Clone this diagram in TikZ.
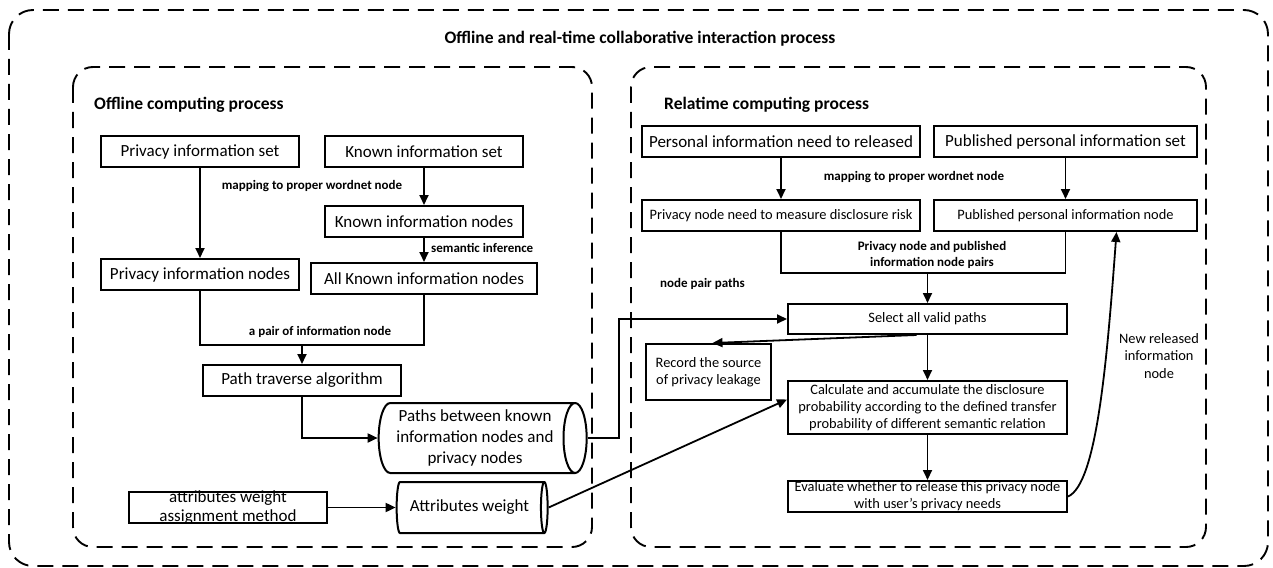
\documentclass[tikz,border=0pt]{standalone}
\usepackage{fontspec}
\setmainfont{Carlito}
\usetikzlibrary{positioning,shapes.geometric,arrows.meta,calc}

\begin{document}
\begin{tikzpicture}[
    x=1pt, y=-1pt,
    >={Triangle[length=10pt,width=9pt]},
    zone/.style={draw, line width=1.9pt, dash pattern=on 16pt off 9pt, rounded corners=24pt},
    proc/.style={rectangle, draw, line width=2pt, minimum height=31pt, inner sep=2pt, align=center, font=\fontsize{17}{19.5}\selectfont},
    sproc/.style={proc, font=\fontsize{14.4}{17.2}\selectfont},
    store/.style={cylinder, draw, line width=2pt, shape aspect=0.4, inner sep=1pt, align=center, font=\fontsize{17}{20.7}\selectfont},
    lbl/.style={font=\bfseries\fontsize{13}{16}\selectfont, inner sep=1pt},
    ttl/.style={font=\bfseries\fontsize{17.5}{20}\selectfont, inner sep=1pt},
    link/.style={line width=1.8pt}
]
    \useasboundingbox (0,0) rectangle (1273,567);

    % Zones
    \draw[zone] (9,10) rectangle (1268,566);
    \draw[zone, rounded corners=20pt] (73,67) rectangle (592,547);
    \draw[zone, rounded corners=20pt] (631,67) rectangle (1206,547);
    \node[ttl] (maintitle) at (640,39) {Offline and real-time collaborative interaction process};
    \node[ttl, anchor=west] (offtitle) at (93,105) {Offline computing process};
    \node[ttl, anchor=west] (rttitle) at (663,105) {Relatime computing process};

    % Offline computing
    \node[proc, minimum width=198pt] (pis) at (200,151.5) {Privacy information set};
    \node[proc, minimum width=198pt] (kis) at (424,151.5) {Known information set};
    \node[proc, minimum width=198pt, below=37pt of kis] (kin) {Known information nodes};
    \node[proc, minimum width=198pt] (pin) at (200,274.5) {Privacy information nodes};
    \node[proc, minimum width=226pt, below=24pt of kin] (akn) {All Known information nodes};
    \node[proc, minimum width=198pt] (path) at (302,380.5) {Path traverse algorithm};
    \node[store, minimum height=208pt, minimum width=70pt] (paths) at (475,438) {Paths between known\\information nodes and\\privacy nodes};
    \node[proc, minimum width=198pt, inner ysep=-3.5pt] (awm) at (228,507.5) {attributes weight\\assignment method};
    \node[store, minimum height=151pt, minimum width=51pt] (aw) at (469.5,507.5) {Attributes weight};

    \node[lbl] (lmap) at (312,186) {mapping to proper wordnet node};
    \node[lbl, anchor=west] (lsem) at (430,248) {semantic inference};
    \node[lbl] (lpair) at (320,332) {a pair of information node};
    \coordinate (pj) at (302,345);

    \draw[link, ->] (pis) -- (pin);
    \draw[link, ->] (kis) -- (kin);
    \draw[link, ->] (kin) -- (akn);
    \draw[link] (pin.south) |- (pj) -| (akn.south);
    \draw[link, ->] (pj) -- (path.north);
    \draw[link, ->] (path.south) |- (paths.west);
    \draw[link, ->] (awm) -- (aw);

    % Realtime computing
    \node[proc, minimum width=278pt] (pnr) at (781,141.5) {Personal information need to released};
    \node[proc, minimum width=263pt] (pps) at (1065.5,141.5) {Published personal information set};
    \node[sproc, minimum width=278pt, below=41pt of pnr] (prn) {Privacy node need to measure disclosure risk};
    \node[sproc, minimum width=263pt, below=41pt of pps] (ppn) {Published personal information node};
    \node[sproc, minimum width=279pt, minimum height=30pt] (select) at (927.5,319) {Select all valid paths};
    \node[sproc, minimum width=125pt, minimum height=56pt] (record) at (708.5,372) {Record the source\\of privacy leakage};
    \node[sproc, minimum width=279pt, minimum height=53pt, inner ysep=0pt, below=45pt of select] (calc) {Calculate and accumulate the disclosure\\probability according to the defined transfer\\probability of different semantic relation};
    \node[sproc, minimum width=279pt, inner ysep=-2pt, below=45pt of calc] (eval) {Evaluate whether to release this privacy node\\with user's privacy needs};

    \node[lbl] (rmap) at (914,177) {mapping to proper wordnet node};
    \node[lbl, align=center] (rpair) at (932,255) {Privacy node and published\\information node pairs};
    \node[lbl, anchor=west] (lpaths) at (659,284) {node pair paths};
    \node[font=\fontsize{14.4}{17.5}\selectfont, align=center] (lnew) at (1159,356) {New released\\information\\node};
    \coordinate (rj) at (927.5,273);
    \coordinate (newin) at ([xshift=51pt]ppn.south);

    \draw[link, ->] (pnr) -- (prn);
    \draw[link, ->] (pps) -- (ppn);
    \draw[link] (prn.south) |- (rj) -| (ppn.south);
    \draw[link, ->] (rj) -- (select.north);
    \draw[link, ->] (paths.east) -- ++(31,0) |- (select.west);
    \draw[link, ->] ([xshift=-11pt]select.south) -- ([xshift=4pt]record.north);
    \draw[link, ->] (select) -- (calc);
    \draw[link, ->] (calc) -- (eval);
    \draw[link, ->] (aw.east) -- ([yshift=8pt]calc.west);
    \draw[link, ->] (eval.east) .. controls (1097,484) and (1107,360) .. (newin);
\end{tikzpicture}
\end{document}
